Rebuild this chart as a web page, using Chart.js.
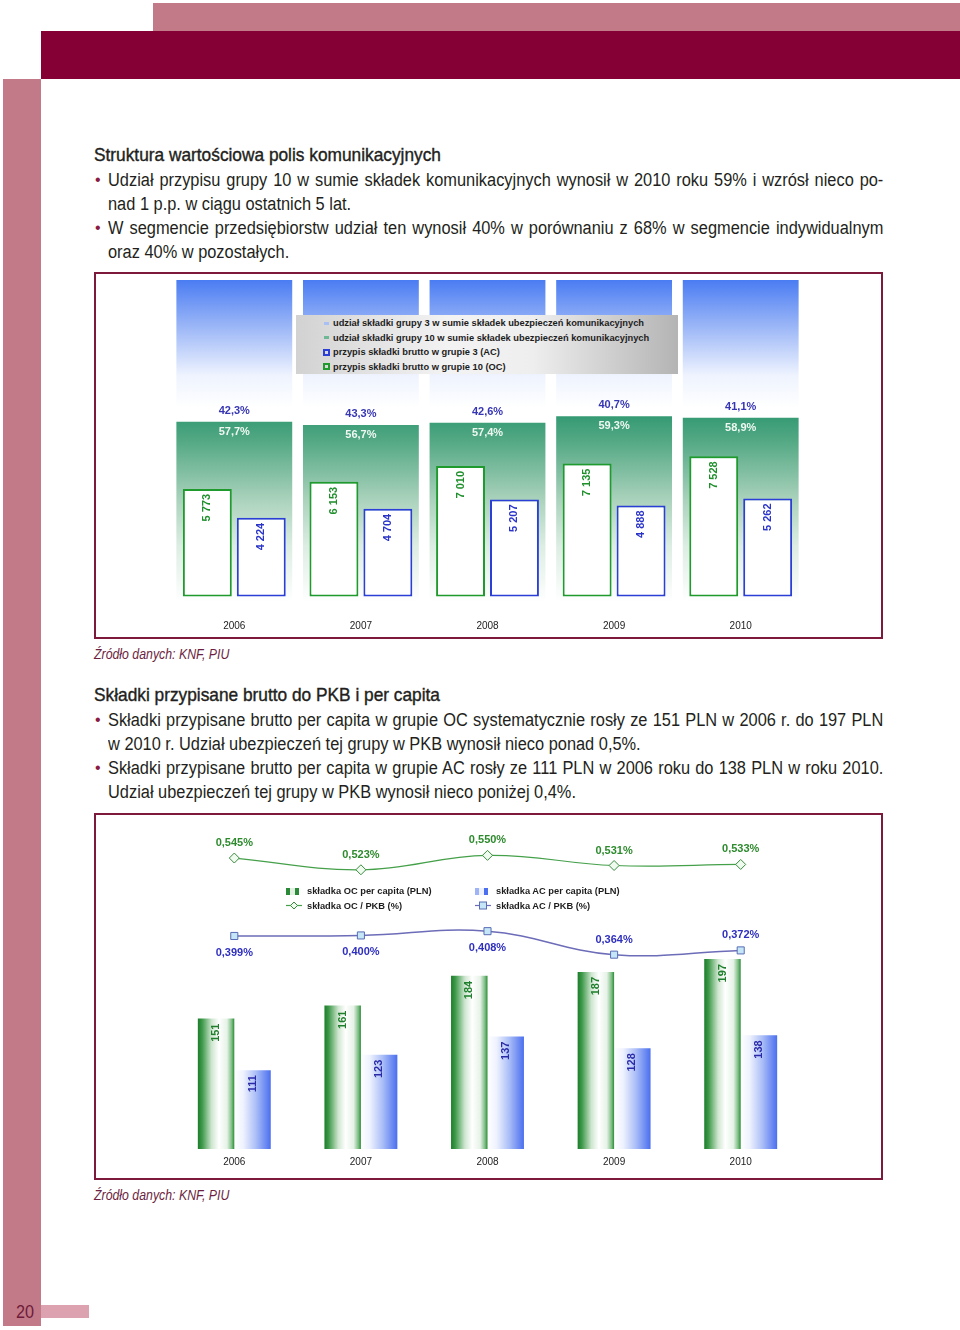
<!DOCTYPE html>
<html>
<head>
<meta charset="utf-8">
<script src="https://cdn.jsdelivr.net/npm/chart.js@4.4.0/dist/chart.umd.min.js"></script>
<style>
body { margin: 0; background: #fff; }
#page { position: relative; width: 960px; height: 1330px; overflow: hidden; color: #231f20;
  font-family: "Liberation Sans", Arial, sans-serif; }
.abs { position: absolute; }
.ln { position: absolute; left: 108px; width: 852px; height: 24px; overflow: hidden;
  font-size: 18px; line-height: 24px; white-space: nowrap;
  transform: scaleX(0.91); transform-origin: 0 0; }
.j { white-space: normal; text-align: justify; text-align-last: justify; }
.hd { position: absolute; left: 94px; font-size: 19px; line-height: 24px; white-space: nowrap;
  -webkit-text-stroke: 0.4px #231f20; transform: scaleX(0.91); transform-origin: 0 0; }
.bul { position: absolute; left: 95px; font-size: 16px; line-height: 24px; color: #8a1a42; }
.src { position: absolute; left: 94px; font-size: 14px; line-height: 20px; font-style: italic; color: #6d1f3f;
  white-space: nowrap; transform: scaleX(0.88); transform-origin: 0 0; }
.box { position: absolute; left: 94px; width: 789px; height: 367px; border: 2px solid #7d1a3c; box-sizing: border-box; }
canvas { position: absolute; }
.lg { position: absolute; font-family: "Liberation Sans", Arial, sans-serif; font-weight: bold; font-size: 9.3px; color: #1d1d1d; }
.lg .row { height: 14.5px; display: flex; align-items: center; white-space: nowrap; }
.lg .ic { display: inline-block; margin-right: 3px; }
</style>
</head>
<body>
<div id="page">
  <!-- page decoration -->
  <div class="abs" style="left:153px;top:3px;width:807px;height:28px;background:#c27a89"></div>
  <div class="abs" style="left:41px;top:31px;width:919px;height:48px;background:#850035"></div>
  <div class="abs" style="left:3px;top:79px;width:38px;height:1247px;background:#c27a89"></div>
  <div class="abs" style="left:41px;top:1305px;width:48px;height:13px;background:#dca2b0"></div>
  <div class="abs" style="left:16px;top:1301px;font-size:18px;line-height:22px;color:#6e1a38;transform:scaleX(0.9);transform-origin:0 0">20</div>

  <div class="hd" style="top:143px">Struktura wartościowa polis komunikacyjnych</div>
  <div class="bul" style="top:168px">•</div>
  <div class="ln j" style="top:168px">Udział przypisu grupy 10 w sumie składek komunikacyjnych wynosił w 2010 roku 59% i wzrósł nieco po-</div>
  <div class="ln" style="top:192px">nad 1 p.p. w ciągu ostatnich 5 lat.</div>
  <div class="bul" style="top:216px">•</div>
  <div class="ln j" style="top:216px">W segmencie przedsiębiorstw udział ten wynosił 40% w porównaniu z 68% w segmencie indywidualnym</div>
  <div class="ln" style="top:240px">oraz 40% w pozostałych.</div>

  <div class="box" style="top:272px"></div>
  <canvas id="c1" width="785" height="363" style="left:96px;top:274px"></canvas>
  <div id="lg1" class="lg" style="left:296px;top:315px;width:382px;height:59px;padding-top:1px;box-sizing:border-box;
    background:linear-gradient(to right,#d2d2d2,#f3f3f3 40%,#eeeeee 62%,#b4b4b4)"></div>
  <div class="src" style="top:644px">Źródło danych: KNF, PIU</div>

  <div class="hd" style="top:683px">Składki przypisane brutto do PKB i per capita</div>
  <div class="bul" style="top:708px">•</div>
  <div class="ln j" style="top:708px">Składki przypisane brutto per capita w grupie OC systematycznie rosły ze 151 PLN w 2006 r. do 197 PLN</div>
  <div class="ln" style="top:732px">w 2010 r. Udział ubezpieczeń tej grupy w PKB wynosił nieco ponad 0,5%.</div>
  <div class="bul" style="top:756px">•</div>
  <div class="ln j" style="top:756px">Składki przypisane brutto per capita w grupie AC rosły ze 111 PLN w 2006 roku do 138 PLN w roku 2010.</div>
  <div class="ln" style="top:780px">Udział ubezpieczeń tej grupy w PKB wynosił nieco poniżej 0,4%.</div>

  <div class="box" style="top:813px"></div>
  <canvas id="c2" width="785" height="363" style="left:96px;top:815px"></canvas>
  <div id="lg2a" class="lg" style="left:286px;top:884px"></div>
  <div id="lg2b" class="lg" style="left:475px;top:884px"></div>
  <div class="src" style="top:1185px">Źródło danych: KNF, PIU</div>
</div>

<script>
const years = ["2006", "2007", "2008", "2009", "2010"];

// struktura wartościowa polis komunikacyjnych
const share3 = [42.3, 43.3, 42.6, 40.7, 41.1];
const share10 = [57.7, 56.7, 57.4, 59.3, 58.9];
const premiumOC = [5773, 6153, 7010, 7135, 7528];
const premiumAC = [4224, 4704, 5207, 4888, 5262];

// składki per capita i do PKB
const ocPerCapita = [151, 161, 184, 187, 197];
const acPerCapita = [111, 123, 137, 128, 138];
const ocToGdp = [0.545, 0.523, 0.550, 0.531, 0.533];
const acToGdp = [0.399, 0.400, 0.408, 0.364, 0.372];

const FONT = '"Liberation Sans", Arial, sans-serif';

function thousands(v) { return String(v).replace(/\B(?=(\d{3})+(?!\d))/g, " "); }
function pct(v, d) { return v.toFixed(d).replace(".", ",") + "%"; }

function vGrad(chart, axisId, from, to, stops) {
    const s = chart.scales[axisId];
    if (!s || !chart.chartArea) return stops[0][1];
    const y0 = s.getPixelForValue(from), y1 = s.getPixelForValue(to);
    if (!isFinite(y0) || !isFinite(y1)) return stops[0][1];
    const g = chart.ctx.createLinearGradient(0, y0, 0, y1);
    stops.forEach(([o, c]) => g.addColorStop(o, c));
    return g;
}

// poziomy gradient dla słupka w grupie (side -1 lewy, 1 prawy)
function hGrad(ctx, side, catPct, stops) {
    const chart = ctx.chart, xs = chart.scales.x;
    if (ctx.dataIndex === undefined || !xs || !chart.chartArea) return stops[0][1];
    const step = xs.getPixelForValue(1) - xs.getPixelForValue(0);
    const c = xs.getPixelForValue(ctx.dataIndex);
    if (!isFinite(step) || !isFinite(c)) return stops[0][1];
    const w = step * catPct / 2;
    const left = side < 0 ? c - w : c;
    const g = chart.ctx.createLinearGradient(left, 0, left + w, 0);
    stops.forEach(([o, col]) => g.addColorStop(o, col));
    return g;
}

function drawUp(c, text, x, y, color) {
    c.save();
    c.translate(x, y);
    c.rotate(-Math.PI / 2);
    c.textAlign = "right";
    c.textBaseline = "middle";
    c.fillStyle = color;
    c.fillText(text, 0, 0);
    c.restore();
}

const topLabels = {
    id: "topLabels",
    afterDatasetsDraw(chart) {
        const c = chart.ctx, xs = chart.scales.x, yp = chart.scales.yp;
        c.save();
        c.font = "bold 11px " + FONT;
        c.textAlign = "center";
        c.textBaseline = "middle";
        years.forEach((y, i) => {
            const cx = xs.getPixelForValue(i);
            const gy = yp.getPixelForValue(share10[i]);
            c.fillStyle = "#3636b4";
            c.fillText(pct(share3[i], 1), cx, gy - 11);
            c.fillStyle = "#f0f8f3";
            c.fillText(pct(share10[i], 1), cx, gy + 10);
        });
        [[0, "#1f8f2c"], [1, "#2a34c8"]].forEach(([di, col]) => {
            chart.getDatasetMeta(di).data.forEach((el, j) => {
                drawUp(c, thousands(chart.data.datasets[di].data[j]), el.x, el.y + 5, col);
            });
        });
        c.restore();
    }
};

const acLabelSide = [1, 1, 1, -1, -1];

const bottomLabels = {
    id: "bottomLabels",
    afterDatasetsDraw(chart) {
        const c = chart.ctx;
        c.save();
        c.font = "bold 11px " + FONT;
        c.textAlign = "center";
        c.textBaseline = "middle";
        chart.getDatasetMeta(0).data.forEach((el, j) => {
            c.fillStyle = "#2d8a2d";
            c.fillText(pct(ocToGdp[j], 3), el.x, el.y - 15);
        });
        chart.getDatasetMeta(1).data.forEach((el, j) => {
            c.fillStyle = "#2f2fbf";
            c.fillText(pct(acToGdp[j], 3), el.x, el.y + (acLabelSide[j] > 0 ? 17 : -15));
        });
        [[2, "#1f7f2c"], [3, "#2a2aa8"]].forEach(([di, col]) => {
            chart.getDatasetMeta(di).data.forEach((el, j) => {
                drawUp(c, String(chart.data.datasets[di].data[j]), el.x, el.y + 5, col);
            });
        });
        c.restore();
    }
};

const xAxis = (pad) => ({
    grid: { display: false, drawTicks: false },
    border: { display: false },
    ticks: { color: "#222", padding: pad, font: { size: 10, family: FONT } }
});

const chart1 = new Chart(document.getElementById("c1"), {
    type: "bar",
    data: {
        labels: years,
        datasets: [
            {
                label: "przypis składki brutto w grupie 10 (OC)",
                data: premiumOC, yAxisID: "y", order: 1,
                backgroundColor: "#ffffff", borderColor: "#1f9a2c", borderWidth: 2, borderSkipped: false,
                categoryPercentage: 0.852, barPercentage: 0.907
            },
            {
                label: "przypis składki brutto w grupie 3 (AC)",
                data: premiumAC, yAxisID: "y", order: 1,
                backgroundColor: "#ffffff", borderColor: "#2b3fd6", borderWidth: 2, borderSkipped: false,
                categoryPercentage: 0.852, barPercentage: 0.907
            },
            {
                label: "udział składki grupy 10 w sumie składek ubezpieczeń komunikacyjnych",
                data: share10.map(v => [0, v]), yAxisID: "yp", order: 2, grouped: false,
                categoryPercentage: 0.915, barPercentage: 1, borderWidth: 0,
                backgroundColor: ctx => vGrad(ctx.chart, "yp", 59.5, 4, [
                    [0, "#349a73"], [0.13, "#52a883"], [0.46, "#acd3bd"], [0.7, "#dcede3"], [1, "#ffffff"]])
            },
            {
                label: "udział składki grupy 3 w sumie składek ubezpieczeń komunikacyjnych",
                data: share10.map((v, i) => [v, v + share3[i]]), yAxisID: "yp", order: 2, grouped: false,
                categoryPercentage: 0.915, barPercentage: 1, borderWidth: 0,
                backgroundColor: ctx => vGrad(ctx.chart, "yp", 100, 62, [
                    [0, "#4a7cf2"], [0.35, "#98b4f7"], [0.75, "#eef3fe"], [1, "#ffffff"]])
            }
        ]
    },
    options: {
        responsive: false,
        animation: false,
        events: [],
        layout: { padding: { left: 75, right: 77, top: 6, bottom: 0 } },
        plugins: { legend: { display: false }, tooltip: { enabled: false } },
        scales: {
            x: xAxis(5),
            y: { display: false, min: -1000, max: 17000 },
            yp: { display: false, min: 0, max: 100 }
        }
    },
    plugins: [topLabels]
});

const greenStops = [[0, "#1a7d2a"], [0.12, "#3f9a4b"], [0.38, "#cfe6d0"], [0.58, "#ffffff"], [0.8, "#e6f2e7"], [0.93, "#7dbd84"], [1, "#2a8c36"]];
const blueStops = [[0, "#ffffff"], [0.25, "#eef2fe"], [0.6, "#a9bdf7"], [1, "#4b6fef"]];

const chart2 = new Chart(document.getElementById("c2"), {
    type: "bar",
    data: {
        labels: years,
        datasets: [
            {
                type: "line", label: "składka OC / PKB (%)", data: ocToGdp, yAxisID: "yr", order: 0,
                borderColor: "#45a04a", borderWidth: 1.2, tension: 0.4,
                pointStyle: "rectRot", pointRadius: 5, pointBackgroundColor: "#effbef",
                pointBorderColor: "#3a8a3e", pointBorderWidth: 1
            },
            {
                type: "line", label: "składka AC / PKB (%)", data: acToGdp, yAxisID: "yr", order: 0,
                borderColor: "#6c6cb8", borderWidth: 1.5, tension: 0.4,
                pointStyle: "rect", pointRadius: 5, pointBackgroundColor: "#c4e6f6",
                pointBorderColor: "#5a6cb5", pointBorderWidth: 1
            },
            {
                label: "składka OC per capita (PLN)", data: ocPerCapita, yAxisID: "y", order: 1,
                categoryPercentage: 0.576, barPercentage: 1, borderWidth: 0,
                backgroundColor: ctx => hGrad(ctx, -1, 0.576, greenStops)
            },
            {
                label: "składka AC per capita (PLN)", data: acPerCapita, yAxisID: "y", order: 1,
                categoryPercentage: 0.576, barPercentage: 1, borderWidth: 0,
                backgroundColor: ctx => hGrad(ctx, 1, 0.576, blueStops)
            }
        ]
    },
    options: {
        responsive: false,
        animation: false,
        events: [],
        layout: { padding: { left: 75, right: 77, top: 11, bottom: 3 } },
        plugins: { legend: { display: false }, tooltip: { enabled: false } },
        scales: {
            x: xAxis(7),
            y: { display: false, min: 50, max: 300 },
            yr: { display: false, min: 0, max: 0.605 }
        }
    },
    plugins: [bottomLabels]
});

// gradienty liczone od skal, więc drugi przebieg po ułożeniu osi
chart1.update();
chart2.update();

// legendy w HTML, etykiety z danych wykresów
const ds1 = chart1.data.datasets;
const dash = col => `<span class="ic" style="width:5px;height:3px;margin-left:28px;margin-right:4px;background:${col}"></span>`;
const sq = col => `<span class="ic" style="width:7px;height:7px;margin-left:27px;border:2px solid ${col};box-sizing:border-box"></span>`;
document.getElementById("lg1").innerHTML = [
    [dash("#a8c0f4"), ds1[3].label],
    [dash("#6fb896"), ds1[2].label],
    [sq("#2b3fd6"), ds1[1].label],
    [sq("#1f9a2c"), ds1[0].label]
].map(([ic, t]) => `<div class="row">${ic}<span>${t}</span></div>`).join("");

const ds2 = chart2.data.datasets;
const barIc = g => `<span class="ic" style="width:16px;height:7px;margin-right:5px;background:${g}"></span>`;
const lineIc = (col, marker) => `<svg class="ic" width="16" height="9" style="margin-right:5px"><line x1="0" y1="4.5" x2="16" y2="4.5" stroke="${col}" stroke-width="1.2"/>${marker}</svg>`;
document.getElementById("lg2a").innerHTML =
    `<div class="row">${barIc("linear-gradient(to right,#2a8a38 0 25%,#e2f0e2 25% 55%,#2a8a38 55% 80%,#fff 80%)")}<span>${ds2[2].label}</span></div>` +
    `<div class="row">${lineIc("#45a04a", '<path d="M8 1 L11.5 4.5 L8 8 L4.5 4.5 Z" fill="#effbef" stroke="#3a8a3e"/>')}<span>${ds2[0].label}</span></div>`;
document.getElementById("lg2b").innerHTML =
    `<div class="row">${barIc("linear-gradient(to right,#9fb4f5 0 25%,#eef2fe 25% 55%,#4b6fef 55% 80%,#fff 80%)")}<span>${ds2[3].label}</span></div>` +
    `<div class="row">${lineIc("#6c6cb8", '<rect x="4.5" y="1" width="7" height="7" fill="#c4e6f6" stroke="#5a6cb5"/>')}<span>${ds2[1].label}</span></div>`;
</script>
</body>
</html>
